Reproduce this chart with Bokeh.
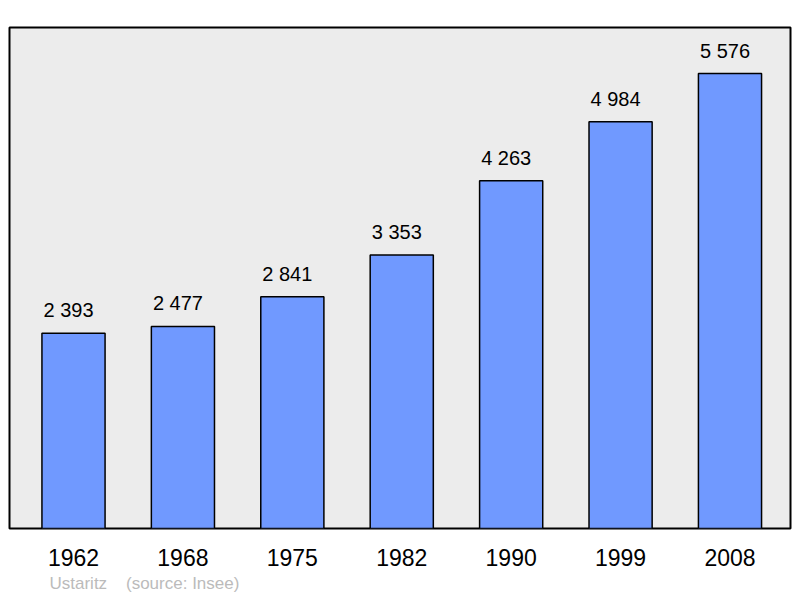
from bokeh.plotting import figure
from bokeh.models import Range1d, FixedTicker, Title, ColumnDataSource
from bokeh.core.properties import value
from bokeh.embed import file_html
from bokeh.resources import INLINE

years = ["1962", "1968", "1975", "1982", "1990", "1999", "2008"]
population = [2393, 2477, 2841, 3353, 4263, 4984, 5576]
commune = "Ustaritz"
source = "(source: Insee)"

labels = ["{:,}".format(v).replace(",", " ") for v in population]
xs = list(range(len(years)))
src = ColumnDataSource(dict(x=xs, top=population, label=labels))

FONT = "Liberation Sans"

p = figure(width=800, height=595, output_backend="svg", toolbar_location=None,
           x_range=Range1d(-0.585, 6.553), y_range=Range1d(0, 6140),
           min_border_left=9, min_border_right=10, min_border_top=27,
           min_border_bottom=20)

p.background_fill_color = "#ececec"
p.border_fill_color = "white"
p.outline_line_color = "black"
p.outline_line_width = 2
p.grid.visible = False
p.yaxis.visible = False

p.vbar(x="x", top="top", bottom=0, width=0.577, source=src,
       fill_color="#7099ff", line_color="black", line_width=1.5)

p.text(x="x", y="top", text="label", source=src, x_offset=-5, y_offset=-23,
       text_align="center", text_baseline="alphabetic",
       text_font=value(FONT), text_font_size="20px", text_color="black")

ax = p.xaxis[0]
ax.ticker = FixedTicker(ticks=xs)
ax.major_label_overrides = {i: y for i, y in zip(xs, years)}
ax.axis_line_color = None
ax.major_tick_line_color = None
ax.minor_tick_line_color = None
ax.major_label_text_font = FONT
ax.major_label_text_font_size = "23px"
ax.major_label_text_color = "black"
ax.major_label_standoff = 14

t = Title(text=commune + "\u00a0\u00a0\u00a0\u00a0" + source, align="left",
          text_font=FONT, text_font_size="17px", text_color="#bbbbbb",
          text_font_style="normal", offset=40, standoff=6)
p.add_layout(t, "below")

open("out.html", "w").write(file_html(p, INLINE))
